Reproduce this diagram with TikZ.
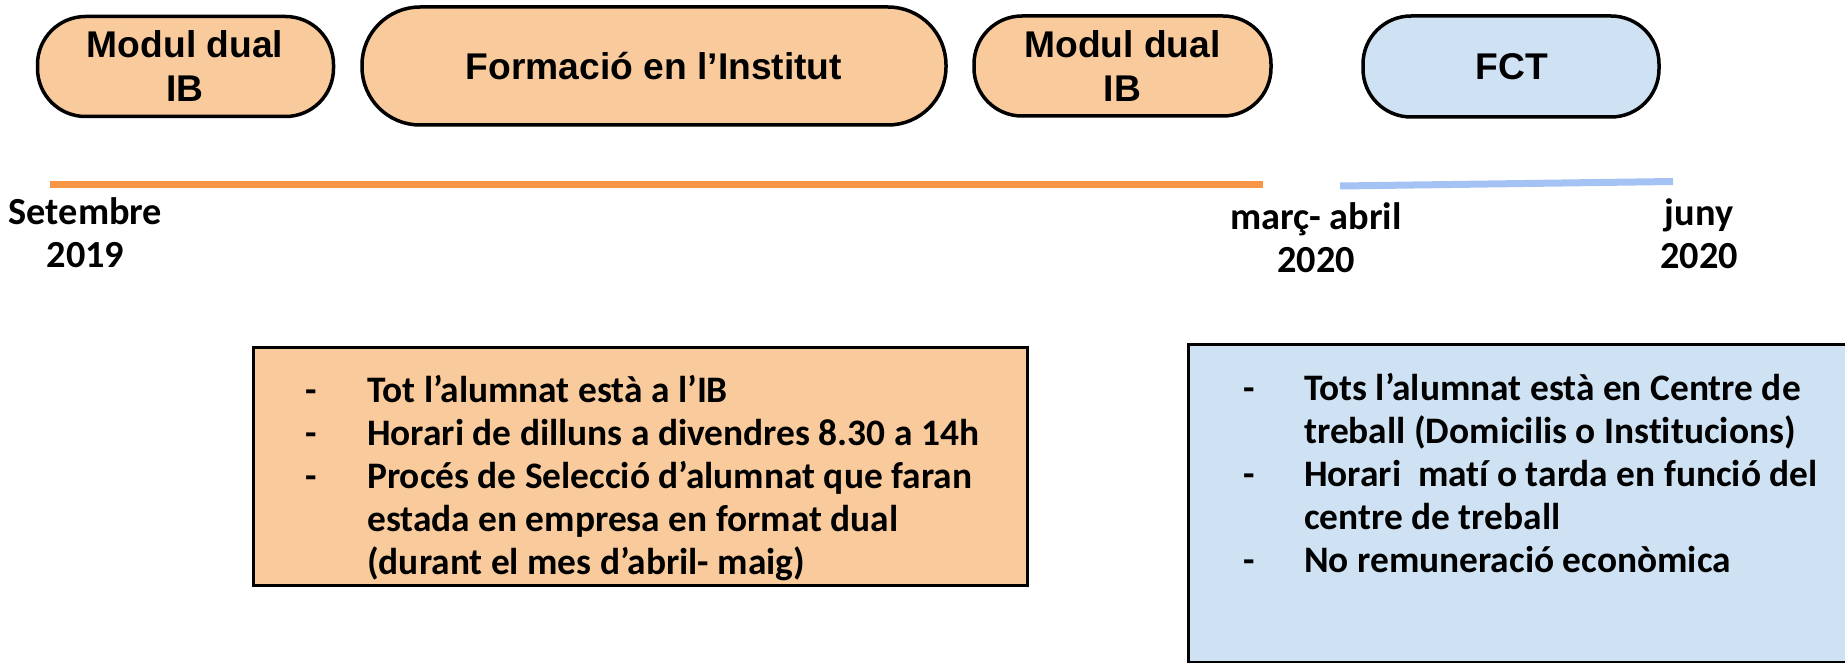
\documentclass[tikz,border=0pt]{standalone}
\usepackage{fontspec}
\newfontfamily\arialfont{Liberation Sans}
\newfontfamily\calfont[Ligatures=NoCommon]{Carlito}
\definecolor{peach}{HTML}{F9CB9C}
\definecolor{paleblue}{HTML}{CFE2F3}
\definecolor{orangeline}{HTML}{F79646}
\definecolor{blueline}{HTML}{A4C2F4}
\begin{document}
\begin{tikzpicture}[x=1pt,y=-1pt,
  pill/.style={draw=black, line width=3.5pt, rounded corners=#1, inner sep=0pt},
  pill/.default=48pt,
  titletext/.style={font=\arialfont\bfseries\fontsize{37.2}{44}\selectfont, inner sep=0pt, anchor=base},
  datetext/.style={font=\calfont\bfseries\fontsize{38.3}{43}\selectfont, inner sep=0pt, anchor=base},
  infobox/.style={draw=black, line width=3pt, inner sep=0pt},
  bodytext/.style={font=\calfont\bfseries\fontsize{37.4}{43}\selectfont, inner sep=0pt, anchor=base west},
  timeline/.style={line width=7pt, line cap=butt}]
\useasboundingbox (0,0) rectangle (1845,663);
\clip (0,0) rectangle (1845,663);
\fill[white] (0,0) rectangle (1845,663);

% top pills
\node[pill, fill=peach, minimum width=296pt, minimum height=100pt] (b1) at (185.5,66.5) {};
\node[pill=58pt, fill=peach, minimum width=584pt, minimum height=118pt] (b2) at (654,66) {};
\node[pill, fill=peach, minimum width=297pt, minimum height=100pt] (b3) at (1122.5,66) {};
\node[pill, fill=paleblue, minimum width=296pt, minimum height=101pt] (b4) at (1511,66.5) {};

\node[titletext] (t1) at (185,58) {\begin{tabular}[t]{@{}c@{}}Modul dual\\IB\end{tabular}};
\node[titletext] (t2) at (654,80) {Formació en l’Institut};
\node[titletext] (t3) at (1122.5,58) {\begin{tabular}[t]{@{}c@{}}Modul dual\\IB\end{tabular}};
\node[titletext] (t4) at (1512,80) {FCT};

% timelines
\coordinate (oa) at (50,185);
\coordinate (ob) at (1263,185);
\coordinate (ba) at (1340,186);
\coordinate (bb) at (1673,181.5);
\draw[timeline, orangeline] (oa) -- (ob);
\draw[timeline, blueline] (ba) -- (bb);

% dates
\node[datetext] (d1) at (85.5,225) {\begin{tabular}[t]{@{}c@{}}Setembre\\2019\end{tabular}};
\node[datetext] (d2) at (1316,230) {\begin{tabular}[t]{@{}c@{}}març- abril\\2020\end{tabular}};
\node[datetext] (d3) at (1699,226) {\begin{tabular}[t]{@{}c@{}}juny\\2020\end{tabular}};

% info boxes
\node[infobox, fill=peach, minimum width=774pt, minimum height=238pt] (lbox) at (640,466) {};
\node[infobox, fill=paleblue, minimum width=682pt, minimum height=318pt] (rbox) at (1529,503) {};

\node[bodytext] (ltext) at (305,402) {\begin{tabular}[t]{@{}p{62pt}@{}l@{}}
- & Tot l’alumnat està a l’IB\\
- & Horari de dilluns a divendres 8.30 a 14h\\
- & Procés de Selecció d’alumnat que faran\\
  & estada en empresa en format dual\\
  & (durant el mes d’abril- maig)
\end{tabular}};
\node[bodytext] (rtext) at (1243,400) {\begin{tabular}[t]{@{}p{61pt}@{}l@{}}
- & Tots l’alumnat està en Centre de\\
  & treball (Domicilis o Institucions)\\
- & Horari~ matí o tarda en funció del\\
  & centre de treball\\
- & No remuneració econòmica
\end{tabular}};
\end{tikzpicture}
\end{document}
